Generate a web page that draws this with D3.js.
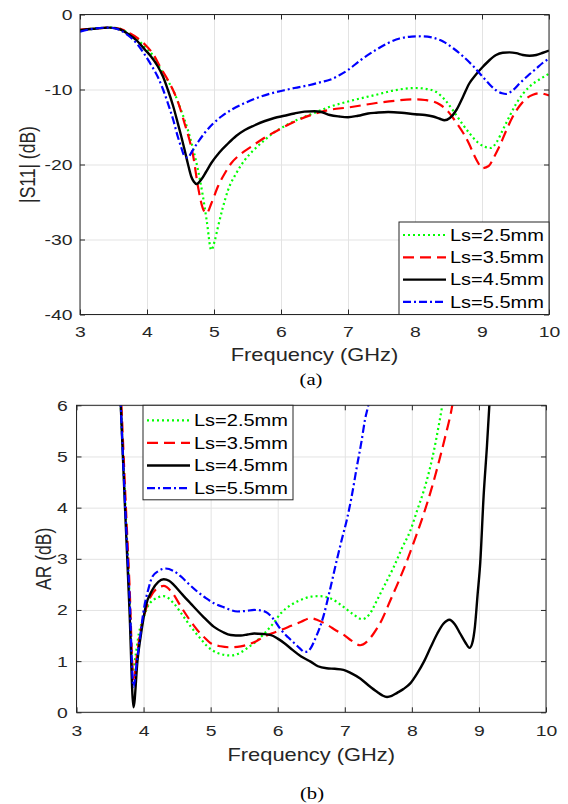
<!DOCTYPE html>
<html>
<head>
<meta charset="utf-8">
<script src="https://cdn.jsdelivr.net/npm/d3@7"></script>
<style>
  body { margin: 0; background: #fff; }
  svg { display: block; }
</style>
</head>
<body>
<svg id="fig" width="568" height="804"></svg>
<script>
// ---- data ----
const freqTicks = [3, 4, 5, 6, 7, 8, 9, 10];
const s11Ticks = [0, -10, -20, -30, -40];
const arTicks = [0, 1, 2, 3, 4, 5, 6];
const seriesNames = ["Ls=2.5mm", "Ls=3.5mm", "Ls=4.5mm", "Ls=5.5mm"];

// |S11| (dB) vs frequency (GHz)
const s11Ls25 = [[3,-2.1],[3.2,-1.9],[3.44,-1.75],[3.6,-1.9],[3.72,-2.5],[3.85,-3.3],[3.97,-4.3],[4.1,-5.6],[4.21,-7.4],[4.31,-8.8],[4.41,-10.5],[4.51,-12.8],[4.61,-15.4],[4.69,-18],[4.76,-20.7],[4.83,-24],[4.89,-27.4],[4.96,-31.4],[5.01,-30.2],[5.06,-28.3],[5.13,-25.8],[5.21,-23.4],[5.33,-21.2],[5.46,-19.4],[5.6,-18],[5.76,-16.7],[5.9,-15.7],[6.05,-14.9],[6.25,-14],[6.45,-13.3],[6.73,-12.3],[7.0,-11.6],[7.42,-10.7],[7.7,-10.1],[8.0,-9.8],[8.15,-9.9],[8.31,-10.3],[8.45,-11.4],[8.56,-12.7],[8.7,-14.5],[8.81,-15.8],[8.93,-17],[9.03,-17.6],[9.13,-17.8],[9.22,-17],[9.31,-15.4],[9.41,-13.6],[9.51,-11.9],[9.61,-10.6],[9.71,-9.6],[9.85,-8.7],[10,-7.9]];
const s11Ls35 = [[3,-2.0],[3.2,-1.9],[3.44,-1.75],[3.6,-1.9],[3.72,-2.4],[3.85,-3.1],[3.97,-4.0],[4.1,-5.4],[4.21,-7.2],[4.31,-8.7],[4.41,-10.5],[4.49,-12.4],[4.56,-14.5],[4.63,-16.6],[4.69,-18.9],[4.76,-22.9],[4.84,-26.0],[4.89,-26.5],[4.96,-25.2],[5.06,-22.9],[5.16,-21.2],[5.26,-19.8],[5.4,-18.6],[5.56,-17.6],[5.76,-16.4],[5.96,-15.4],[6.2,-14.3],[6.45,-13.4],[6.73,-12.7],[7.0,-12.4],[7.42,-11.8],[7.7,-11.5],[8.0,-11.3],[8.15,-11.4],[8.27,-11.6],[8.37,-12],[8.47,-12.7],[8.6,-14.2],[8.72,-15.8],[8.81,-17.3],[8.89,-18.9],[8.95,-19.9],[9.0,-20.5],[9.1,-20.2],[9.18,-19.0],[9.26,-17.6],[9.36,-15.5],[9.46,-13.6],[9.56,-12.2],[9.66,-11.2],[9.76,-10.7],[9.86,-10.5],[9.93,-10.6],[10,-10.8]];
const s11Ls45 = [[3,-2.1],[3.2,-1.9],[3.44,-1.75],[3.6,-2.0],[3.72,-2.6],[3.85,-3.5],[3.97,-4.7],[4.06,-5.6],[4.16,-6.9],[4.24,-8.3],[4.31,-10.0],[4.39,-12.2],[4.46,-14.5],[4.51,-16.2],[4.56,-18.0],[4.61,-19.9],[4.66,-21.6],[4.7,-22.3],[4.74,-22.6],[4.81,-22.0],[4.88,-21.0],[4.96,-19.8],[5.08,-18.4],[5.21,-17.2],[5.33,-16.2],[5.46,-15.4],[5.6,-14.8],[5.76,-14.2],[5.9,-13.8],[6.05,-13.5],[6.2,-13.2],[6.35,-12.95],[6.5,-12.9],[6.6,-13.0],[6.73,-13.4],[6.87,-13.6],[7.0,-13.7],[7.15,-13.5],[7.3,-13.2],[7.42,-13.1],[7.6,-13.0],[7.8,-13.1],[8.0,-13.3],[8.15,-13.4],[8.27,-13.6],[8.37,-13.9],[8.44,-14.1],[8.52,-13.8],[8.62,-12.7],[8.72,-10.9],[8.81,-9.2],[8.91,-8.0],[9.01,-7.0],[9.11,-6.1],[9.21,-5.4],[9.31,-5.1],[9.41,-5.05],[9.51,-5.15],[9.61,-5.4],[9.71,-5.5],[9.81,-5.4],[9.91,-5.1],[10,-4.8]];
const s11Ls55 = [[3,-2.3],[3.2,-1.9],[3.44,-1.75],[3.6,-2.1],[3.72,-2.8],[3.85,-3.9],[3.97,-5.4],[4.06,-6.7],[4.16,-8.3],[4.24,-10.0],[4.31,-11.8],[4.39,-14.0],[4.46,-16.3],[4.51,-17.7],[4.56,-18.9],[4.61,-19.1],[4.65,-18.6],[4.69,-18.0],[4.77,-16.9],[4.86,-15.8],[4.98,-14.6],[5.11,-13.6],[5.28,-12.6],[5.46,-11.8],[5.65,-11.1],[5.86,-10.5],[6.05,-10.1],[6.2,-9.8],[6.43,-9.4],[6.6,-9.0],[6.73,-8.7],[6.87,-8.1],[7.0,-7.4],[7.2,-6.0],[7.42,-4.7],[7.6,-3.8],[7.77,-3.2],[7.95,-2.95],[8.11,-2.9],[8.27,-3.1],[8.42,-3.6],[8.57,-4.5],[8.72,-5.6],[8.87,-6.9],[9.01,-8.3],[9.11,-9.3],[9.21,-10.1],[9.3,-10.5],[9.36,-10.6],[9.46,-10.1],[9.56,-9.2],[9.68,-8.2],[9.81,-7.2],[9.9,-6.5],[10,-5.9]];

// AR (dB) vs frequency (GHz)
const arLs25 = [[3.6,8.0],[3.66,6.0],[3.72,4.3],[3.78,2.6],[3.84,0.8],[3.88,1.1],[3.93,1.54],[4.0,1.85],[4.06,2.06],[4.15,2.2],[4.3,2.27],[4.45,2.13],[4.58,1.9],[4.7,1.68],[4.83,1.47],[4.95,1.29],[5.1,1.16],[5.3,1.11],[5.45,1.17],[5.55,1.26],[5.68,1.39],[5.8,1.54],[5.93,1.73],[6.05,1.94],[6.2,2.1],[6.35,2.2],[6.5,2.26],[6.62,2.27],[6.8,2.22],[6.98,2.06],[7.12,1.92],[7.26,1.82],[7.37,1.92],[7.48,2.19],[7.6,2.5],[7.73,2.84],[7.85,3.2],[7.98,3.56],[8.08,3.95],[8.18,4.34],[8.26,4.72],[8.33,5.12],[8.4,5.6],[8.45,5.97],[8.5,6.4]];
const arLs35 = [[3.6,8.0],[3.67,6.0],[3.73,4.2],[3.79,2.5],[3.85,0.65],[3.9,1.1],[3.95,1.55],[4.01,1.9],[4.1,2.25],[4.2,2.42],[4.3,2.47],[4.42,2.35],[4.56,2.06],[4.68,1.82],[4.8,1.61],[4.9,1.47],[5.0,1.35],[5.15,1.29],[5.3,1.27],[5.45,1.29],[5.55,1.32],[5.68,1.39],[5.8,1.48],[5.93,1.55],[6.05,1.61],[6.2,1.69],[6.35,1.77],[6.49,1.84],[6.6,1.8],[6.75,1.7],[6.87,1.6],[6.98,1.52],[7.1,1.4],[7.23,1.31],[7.33,1.38],[7.43,1.54],[7.55,1.8],[7.68,2.19],[7.8,2.55],[7.93,2.97],[8.05,3.4],[8.18,3.89],[8.3,4.4],[8.41,4.93],[8.5,5.4],[8.58,5.84],[8.63,6.2]];
const arLs45 = [[3.6,8.0],[3.66,6.0],[3.72,4.1],[3.79,2.0],[3.85,0.1],[3.91,1.02],[3.97,1.6],[4.03,2.06],[4.13,2.39],[4.22,2.55],[4.3,2.6],[4.38,2.57],[4.45,2.49],[4.58,2.3],[4.7,2.13],[4.88,1.88],[5.05,1.67],[5.18,1.57],[5.3,1.51],[5.45,1.5],[5.55,1.52],[5.65,1.54],[5.78,1.53],[5.9,1.51],[6.0,1.44],[6.1,1.35],[6.22,1.22],[6.35,1.09],[6.49,0.99],[6.6,0.9],[6.73,0.86],[6.85,0.85],[6.98,0.83],[7.1,0.76],[7.23,0.66],[7.36,0.52],[7.48,0.4],[7.56,0.33],[7.63,0.3],[7.7,0.32],[7.78,0.38],[7.88,0.46],[7.98,0.57],[8.08,0.76],[8.18,0.99],[8.28,1.27],[8.38,1.54],[8.47,1.73],[8.56,1.81],[8.64,1.72],[8.72,1.54],[8.8,1.36],[8.86,1.26],[8.9,1.35],[8.94,1.67],[8.98,2.3],[9.02,2.93],[9.07,4.23],[9.12,5.21],[9.16,6.1],[9.2,6.8]];
const arLs55 = [[3.6,8.0],[3.66,6.0],[3.72,4.2],[3.79,2.3],[3.85,0.5],[3.9,1.0],[3.95,1.5],[4.01,2.06],[4.07,2.4],[4.13,2.65],[4.22,2.76],[4.33,2.81],[4.45,2.76],[4.56,2.65],[4.68,2.5],[4.8,2.36],[4.93,2.23],[5.05,2.13],[5.2,2.05],[5.4,1.97],[5.52,1.98],[5.65,2.0],[5.75,1.99],[5.85,1.94],[5.95,1.8],[6.05,1.61],[6.15,1.47],[6.25,1.35],[6.33,1.25],[6.4,1.18],[6.45,1.19],[6.49,1.25],[6.58,1.5],[6.68,1.87],[6.78,2.4],[6.88,2.97],[6.96,3.4],[7.03,3.76],[7.1,4.2],[7.18,4.8],[7.25,5.3],[7.3,5.71],[7.35,6.0],[7.4,6.4]];

// ---- styling ----
const styles = [
  { color: "#00ff00", dash: "2,3", width: 2.2 },
  { color: "#ff0000", dash: "11,6", width: 2.2 },
  { color: "#000000", dash: null, width: 2.4 },
  { color: "#0000ff", dash: "8,3,2,3", width: 2.2 }
];
const SX = 1.25;              // the figure is stretched horizontally
const axisColor = "#262626";
const gridColor = "#e3e3e3";
const sans = "'Liberation Sans', Arial, Helvetica, sans-serif";
const serif = "'Liberation Serif', 'Times New Roman', serif";
const fmt = d => String(d);

const svg = d3.select("#fig");

function drawPanel(cfg) {
  const { id, left, right, top, bottom } = cfg;
  const x = d3.scaleLinear().domain([3, 10]).range([left, right]);
  const y = d3.scaleLinear().domain(cfg.yDomain).range([bottom, top]);
  const g = svg.append("g");

  g.append("clipPath").attr("id", id + "-clip")
    .append("rect").attr("x", left).attr("y", top)
    .attr("width", right - left).attr("height", bottom - top);

  // grid
  g.append("g").attr("transform", `translate(0,${bottom})`)
    .call(d3.axisBottom(x).tickValues(freqTicks).tickSize(-(bottom - top)).tickFormat(""))
    .call(s => s.select(".domain").remove())
    .call(s => s.selectAll("line").attr("stroke", gridColor));
  g.append("g").attr("transform", `translate(${left},0)`)
    .call(d3.axisLeft(y).tickValues(cfg.yTicks).tickSize(-(right - left)).tickFormat(""))
    .call(s => s.select(".domain").remove())
    .call(s => s.selectAll("line").attr("stroke", gridColor));

  // curves
  const line = d3.line().x(d => x(d[0])).y(d => y(d[1])).curve(d3.curveMonotoneX);
  const curves = g.append("g").attr("clip-path", `url(#${id}-clip)`);
  cfg.series.forEach((s, i) => {
    curves.append("path")
      .attr("d", line(s))
      .attr("fill", "none")
      .attr("stroke", styles[i].color)
      .attr("stroke-width", styles[i].width)
      .attr("stroke-dasharray", styles[i].dash)
      .attr("stroke-linejoin", "round");
  });

  // axes with inward ticks
  const ticks = g.append("g");
  const xb = ticks.append("g").attr("transform", `translate(0,${bottom})`)
    .call(d3.axisBottom(x).tickValues(freqTicks).tickFormat(fmt).tickSizeInner(-5).tickSizeOuter(0).tickPadding(cfg.xPad));
  const yl = ticks.append("g").attr("transform", `translate(${left},0)`)
    .call(d3.axisLeft(y).tickValues(cfg.yTicks).tickFormat(fmt).tickSizeInner(-5).tickSizeOuter(0).tickPadding(cfg.yPad));
  ticks.append("g").attr("transform", `translate(0,${top})`)
    .call(d3.axisTop(x).tickValues(freqTicks).tickSizeInner(-5).tickSizeOuter(0).tickFormat(""));
  ticks.append("g").attr("transform", `translate(${right},0)`)
    .call(d3.axisRight(y).tickValues(cfg.yTicks).tickSizeInner(-5).tickSizeOuter(0).tickFormat(""));
  ticks.selectAll(".domain").remove();
  ticks.selectAll(".tick line").attr("stroke", axisColor);
  [xb, yl].forEach(a => a.selectAll("text")
    .attr("fill", axisColor)
    .style("font-family", sans)
    .style("font-size", "15.5px")
    .attr("transform", `scale(${SX},1)`));

  g.append("rect")
    .attr("x", left).attr("y", top)
    .attr("width", right - left).attr("height", bottom - top)
    .attr("fill", "none").attr("stroke", axisColor).attr("stroke-width", 1);

  // axis labels
  g.append("text")
    .attr("transform", `translate(${(left + right) / 2},${cfg.xLabelY}) scale(${SX},1)`)
    .attr("text-anchor", "middle")
    .attr("fill", axisColor)
    .style("font-family", sans).style("font-size", "17.5px")
    .text("Frequency (GHz)");
  g.append("text")
    .attr("transform", `translate(${cfg.yLabelX},${(top + bottom) / 2}) scale(${SX},1) rotate(-90)`)
    .attr("text-anchor", "middle")
    .attr("dy", "0.35em")
    .attr("fill", axisColor)
    .style("font-family", sans).style("font-size", "17.5px")
    .text(cfg.yLabel);

  // legend
  const lg = g.append("g");
  const L = cfg.legend;
  lg.append("rect")
    .attr("x", L.x).attr("y", L.y).attr("width", L.w).attr("height", L.h)
    .attr("fill", "#fff").attr("stroke", axisColor).attr("stroke-width", 1);
  seriesNames.forEach((name, i) => {
    const ry = L.y + L.first + i * L.step;
    lg.append("line")
      .attr("x1", L.x + 4).attr("x2", L.x + 47)
      .attr("y1", ry).attr("y2", ry)
      .attr("stroke", styles[i].color)
      .attr("stroke-width", styles[i].width)
      .attr("stroke-dasharray", styles[i].dash);
    lg.append("text")
      .attr("transform", `translate(${L.x + 51},${ry}) scale(${SX},1)`)
      .attr("dy", "0.35em")
      .attr("fill", "#000")
      .style("font-family", sans).style("font-size", "16px")
      .text(name);
  });

  // caption
  g.append("text")
    .attr("transform", `translate(${cfg.captionX},${cfg.captionY}) scale(${SX},1)`)
    .attr("text-anchor", "middle")
    .attr("fill", "#000")
    .style("font-family", serif).style("font-size", "16.5px")
    .text(cfg.caption);
}

drawPanel({
  id: "s11", left: 80, right: 549, top: 14.5, bottom: 314.5,
  yDomain: [-40, 0], yTicks: s11Ticks,
  series: [s11Ls25, s11Ls35, s11Ls45, s11Ls55],
  xPad: 11.5, yPad: 6,
  xLabelY: 361, yLabelX: 27, yLabel: "|S11| (dB)",
  legend: { x: 399, y: 222, w: 150, h: 92.5, first: 13, step: 22.3 },
  caption: "(a)", captionX: 311, captionY: 385
});

drawPanel({
  id: "ar", left: 76.5, right: 546, top: 405.3, bottom: 712.3,
  yDomain: [0, 6], yTicks: arTicks,
  series: [arLs25, arLs35, arLs45, arLs55],
  xPad: 12.5, yPad: 7,
  xLabelY: 761, yLabelX: 43, yLabel: "AR (dB)",
  legend: { x: 143, y: 405.3, w: 150, h: 94.5, first: 15, step: 22.6 },
  caption: "(b)", captionX: 312, captionY: 798.5
});
</script>
</body>
</html>
